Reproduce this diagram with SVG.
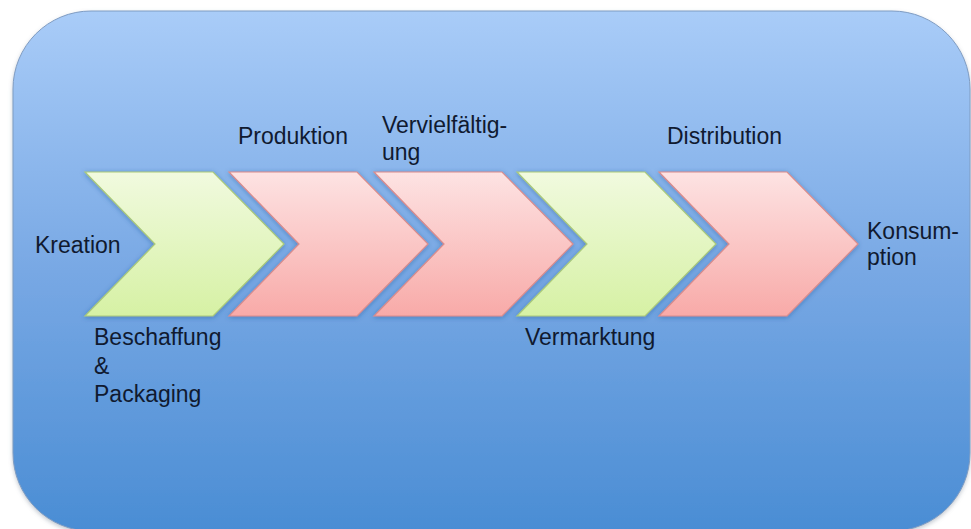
<svg xmlns="http://www.w3.org/2000/svg" width="971" height="529" viewBox="0 0 971 529">
<defs>
<linearGradient id="bg" x1="0" y1="0" x2="0" y2="1">
<stop offset="0" stop-color="#a9ccf8"/>
<stop offset="0.5" stop-color="#78a8e4"/>
<stop offset="1" stop-color="#4a8dd4"/>
</linearGradient>
<linearGradient id="gG" x1="0" y1="0" x2="0" y2="1">
<stop offset="0" stop-color="#f1fadf"/>
<stop offset="1" stop-color="#d6f1a4"/>
</linearGradient>
<linearGradient id="gP" x1="0" y1="0" x2="0" y2="1">
<stop offset="0" stop-color="#fde3e3"/>
<stop offset="1" stop-color="#f8aaa8"/>
</linearGradient>
<filter id="sh" x="-10%" y="-10%" width="120%" height="120%">
<feGaussianBlur in="SourceAlpha" stdDeviation="2.5"/>
<feOffset dx="0" dy="1" result="b"/>
<feFlood flood-color="#1d4f8f" flood-opacity="0.45"/>
<feComposite in2="b" operator="in"/>
<feMerge><feMergeNode/><feMergeNode in="SourceGraphic"/></feMerge>
</filter>
<filter id="bsh" x="-5%" y="-5%" width="110%" height="110%">
<feGaussianBlur in="SourceAlpha" stdDeviation="2"/>
<feOffset dx="0" dy="2" result="b"/>
<feFlood flood-color="#6b7a8c" flood-opacity="0.4"/>
<feComposite in2="b" operator="in"/>
<feMerge><feMergeNode/><feMergeNode in="SourceGraphic"/></feMerge>
</filter>
<path id="chev" d="M0,172 H128 L199,244 L128,316 H0 L70,244 Z"/>
</defs>
<style>
.lbl{font-family:"Liberation Sans",Arial,sans-serif;font-size:23px;fill:#101a30}
.g{fill:url(#gG);stroke:#a9c97a;stroke-width:1.2}
.p{fill:url(#gP);stroke:#d98c8c;stroke-width:1.2}
</style>
<rect width="971" height="529" fill="#ffffff"/>
<g id="background">
<rect x="13" y="11" width="957" height="520" rx="78" ry="78" fill="url(#bg)" stroke="#7f9cc2" stroke-width="1" filter="url(#bsh)"/>
</g>
<g id="connectors"/>
<g id="kreation">
<use href="#chev" x="85" class="g" filter="url(#sh)"/>
<text class="lbl" x="35" y="253">Kreation</text>
</g>
<g id="produktion">
<use href="#chev" x="229" class="p" filter="url(#sh)"/>
<text class="lbl" x="238" y="144">Produktion</text>
</g>
<g id="vervielfaeltigung">
<use href="#chev" x="374" class="p" filter="url(#sh)"/>
<text class="lbl" x="382" y="133">Vervielfältig-</text>
<text class="lbl" x="382" y="160">ung</text>
</g>
<g id="vermarktung">
<use href="#chev" x="517" class="g" filter="url(#sh)"/>
<text class="lbl" x="525" y="345">Vermarktung</text>
</g>
<g id="distribution">
<use href="#chev" x="659" class="p" filter="url(#sh)"/>
<text class="lbl" x="667" y="144">Distribution</text>
</g>
<g id="konsumption">
<text class="lbl" x="867" y="239">Konsum-</text>
<text class="lbl" x="867" y="265">ption</text>
</g>
<g id="beschaffung">
<text class="lbl" x="94" y="345">Beschaffung</text>
<text class="lbl" x="94" y="374">&amp;</text>
<text class="lbl" x="94" y="402">Packaging</text>
</g>
</svg>
